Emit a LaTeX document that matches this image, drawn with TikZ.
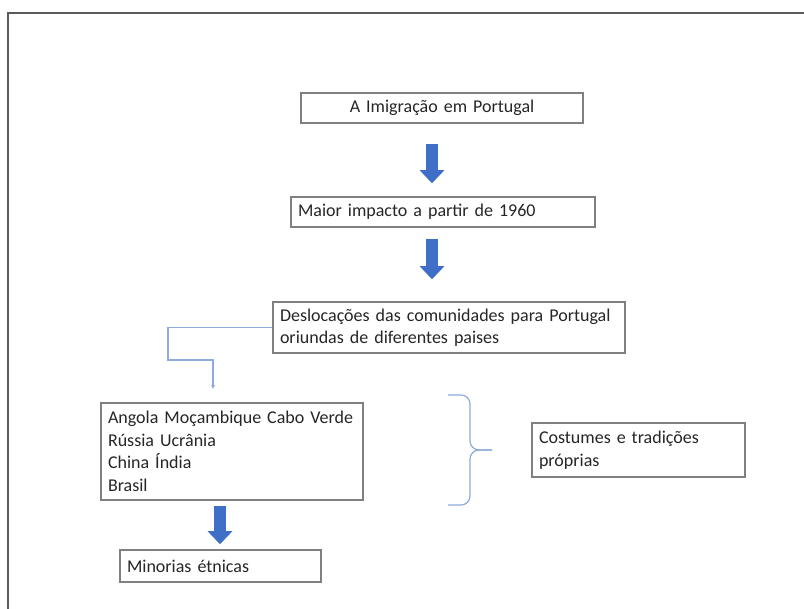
\documentclass[tikz,border=0pt]{standalone}
\usepackage{fontspec}
\setmainfont{Carlito}
\usetikzlibrary{positioning}
\usetikzlibrary{arrows.meta}

\definecolor{boxgray}{RGB}{128,128,128}
\definecolor{arrowblue}{RGB}{63,111,198}
\definecolor{linkblue}{RGB}{143,170,220}
\definecolor{framegray}{RGB}{90,90,90}

\begin{document}
\begin{tikzpicture}[x=1pt,y=-1pt]
 \tikzset{box/.style={
 		draw=boxgray, line width=1.5pt, fill=white,
 		text width=#1,
 		inner xsep=7pt, inner ysep=0pt,
 		align=left,
 		text=black!85,
 		font=\fontsize{18}{22.5}\selectfont
 	},
 	box/.default=200pt,
 	bigarrow/.style={
 		draw=arrowblue, line width=12pt,
 		-{Triangle[width=24pt,length=13pt]}
 	},
 	link/.style={draw=linkblue, line width=1.2pt}
 }
 \useasboundingbox (0,0) rectangle (804,609);
 % frame
 \draw[framegray, line width=2pt] (804,13) -- (7.5,13) -- (7.5,609);

 \node[box=268pt, align=center, minimum height=30pt] (imig) at (442,108) {A Imigração em Portugal};
 \node[box=290pt, minimum height=30pt] (impacto) at (443,212) {Maior impacto a partir de 1960};
 \node[box=338pt, minimum height=51pt] (desloc) at (449,327.5) {Deslocações das comunidades para Portugal\\oriundas de diferentes paises};
 \node[box=248pt, minimum height=97pt] (paises) at (232,451.5) {Angola Moçambique Cabo Verde\\Rússia Ucrânia\\China Índia\\Brasil};
 \node[box=199pt, minimum height=54pt] (costumes) at (638.5,450) {Costumes e tradições\\próprias};
 \node[box=187pt, minimum height=32pt] (minorias) at (220.5,566) {Minorias étnicas};

 \coordinate (ax) at (432,0);
 \coordinate (bx) at (220,0);
 \coordinate (k1) at (168,360);
 \coordinate (k2) at (213,0);

 \draw[bigarrow, shorten <=20pt, shorten >=13pt] (imig.south -| ax) -- (impacto.north -| ax);
 \draw[bigarrow, shorten <=11pt, shorten >=22pt] (impacto.south -| ax) -- (desloc.north -| ax);
 \draw[bigarrow, shorten <=5pt, shorten >=5pt] (paises.south -| bx) -- (minorias.north -| bx);

 \draw[link, -{Latex[length=4pt,width=4pt]}, shorten >=13pt] (desloc.west) -| (k1) -| (paises.north -| k2);

 % brace
 \draw[link, rounded corners=9pt] (448,395) -| (470,450) -- (492,450);
 \draw[link, rounded corners=9pt] (448,505) -| (470,450) -- (492,450);
\end{tikzpicture}
\end{document}
